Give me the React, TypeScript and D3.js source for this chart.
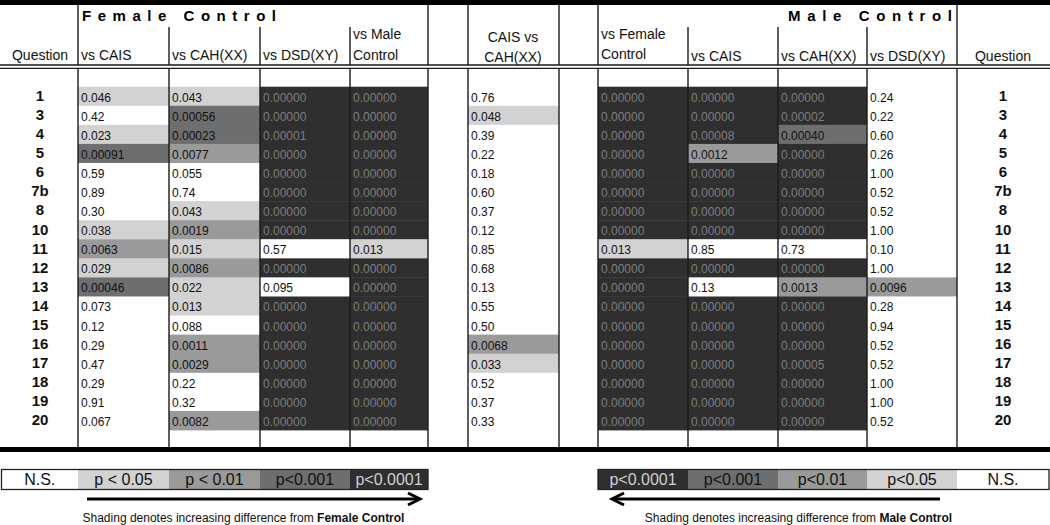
import React from "react";
import * as d3 from "d3";

const questions = ["1", "3", "4", "5", "6", "7b", "8", "10", "11", "12", "13", "14", "15", "16", "17", "18", "19", "20"];

const femaleVsCAIS = ["0.046", "0.42", "0.023", "0.00091", "0.59", "0.89", "0.30", "0.038", "0.0063", "0.029", "0.00046", "0.073", "0.12", "0.29", "0.47", "0.29", "0.91", "0.067"];
const femaleVsCAH = ["0.043", "0.00056", "0.00023", "0.0077", "0.055", "0.74", "0.043", "0.0019", "0.015", "0.0086", "0.022", "0.013", "0.088", "0.0011", "0.0029", "0.22", "0.32", "0.0082"];
const femaleVsDSD = ["0.00000", "0.00000", "0.00001", "0.00000", "0.00000", "0.00000", "0.00000", "0.00000", "0.57", "0.00000", "0.095", "0.00000", "0.00000", "0.00000", "0.00000", "0.00000", "0.00000", "0.00000"];
const femaleVsMale = ["0.00000", "0.00000", "0.00000", "0.00000", "0.00000", "0.00000", "0.00000", "0.00000", "0.013", "0.00000", "0.00000", "0.00000", "0.00000", "0.00000", "0.00000", "0.00000", "0.00000", "0.00000"];
const caisVsCAH = ["0.76", "0.048", "0.39", "0.22", "0.18", "0.60", "0.37", "0.12", "0.85", "0.68", "0.13", "0.55", "0.50", "0.0068", "0.033", "0.52", "0.37", "0.33"];
const maleVsFemale = ["0.00000", "0.00000", "0.00000", "0.00000", "0.00000", "0.00000", "0.00000", "0.00000", "0.013", "0.00000", "0.00000", "0.00000", "0.00000", "0.00000", "0.00000", "0.00000", "0.00000", "0.00000"];
const maleVsCAIS = ["0.00000", "0.00000", "0.00008", "0.0012", "0.00000", "0.00000", "0.00000", "0.00000", "0.85", "0.00000", "0.13", "0.00000", "0.00000", "0.00000", "0.00000", "0.00000", "0.00000", "0.00000"];
const maleVsCAH = ["0.00000", "0.00002", "0.00040", "0.00000", "0.00000", "0.00000", "0.00000", "0.00000", "0.73", "0.00000", "0.0013", "0.00000", "0.00000", "0.00000", "0.00005", "0.00000", "0.00000", "0.00000"];
const maleVsDSD = ["0.24", "0.22", "0.60", "0.26", "1.00", "0.52", "0.52", "1.00", "0.10", "1.00", "0.0096", "0.28", "0.94", "0.52", "0.52", "1.00", "1.00", "0.52"];

const thresholds = [0.0001, 0.001, 0.01, 0.05];
const femaleLegend = ["N.S.", "p < 0.05", "p < 0.01", "p<0.001", "p<0.0001"];
const maleLegend = ["p<0.0001", "p<0.001", "p<0.01", "p<0.05", "N.S."];

const FONT = "'Liberation Sans', Arial, Helvetica, sans-serif";
const shadeColors = ["#2f2f2f", "#6e6e6e", "#9a9a9a", "#d2d2d2", "#ffffff"];
const textColors = ["#7d7d7d", "#111", "#111", "#111", "#111"];

export default function App() {
  const W = 1050;
  const H = 525;
  const level = d3.scaleThreshold<number, number>().domain(thresholds).range([0, 1, 2, 3, 4]);
  const y = d3.scaleBand<string>().domain(questions).range([86.7, 430]).padding(0);
  const bh = y.bandwidth();

  const dataCols = [
    { x0: 78, x1: 169, values: femaleVsCAIS },
    { x0: 169, x1: 260, values: femaleVsCAH },
    { x0: 260, x1: 350, values: femaleVsDSD },
    { x0: 350, x1: 428, values: femaleVsMale },
    { x0: 468, x1: 559, values: caisVsCAH },
    { x0: 598, x1: 688, values: maleVsFemale },
    { x0: 688, x1: 778, values: maleVsCAIS },
    { x0: 778, x1: 867, values: maleVsCAH },
    { x0: 867, x1: 957, values: maleVsDSD },
  ];

  const fullLines = [78, 428, 468, 559, 598, 957];
  const partLines = [169, 260, 350, 688, 778, 867];
  const bodyLines = [78, 169, 260, 350, 428, 468, 559, 598, 688, 778, 867, 957];

  const lineColor = "#1a1a1a";

  const leftLegend = { x0: 1.5, bounds: [1.5, 78, 169, 260, 350, 428] };
  const rightLegend = { bounds: [598, 688, 778, 867, 957, 1049] };
  const leftLevels = [4, 3, 2, 1, 0];
  const rightLevels = [0, 1, 2, 3, 4];

  return (
    <svg width={W} height={H} viewBox={`0 0 ${W} ${H}`} style={{ position: "absolute", left: 0, top: 0, background: "#fff" }} fontFamily={FONT}>
      <rect x={0} y={0} width={W} height={H} fill="#fff" />
      {/* cell fills */}
      {dataCols.map((c, ci) =>
        c.values.map((v, i) => {
          const lv = level(parseFloat(v));
          return <rect key={`f${ci}-${i}`} x={c.x0} y={y(questions[i])!} width={c.x1 - c.x0} height={bh + 0.4} fill={shadeColors[lv]} />;
        })
      )}
      {/* top bar */}
      <rect x={0} y={0} width={W} height={5} fill="#000" />
      {/* header lines */}
      {fullLines.map((x) => (
        <line key={`fl${x}`} x1={x} x2={x} y1={5} y2={65} stroke={lineColor} strokeWidth={1.4} />
      ))}
      {partLines.map((x) => (
        <line key={`pl${x}`} x1={x} x2={x} y1={27} y2={65} stroke={lineColor} strokeWidth={1.4} />
      ))}
      {bodyLines.map((x) => (
        <line key={`bl${x}`} x1={x} x2={x} y1={68} y2={447} stroke={lineColor} strokeWidth={1.4} />
      ))}
      <line x1={0} x2={W} y1={65} y2={65} stroke={lineColor} strokeWidth={1.3} />
      <line x1={0} x2={W} y1={68.3} y2={68.3} stroke={lineColor} strokeWidth={1.3} />
      <rect x={0} y={447} width={W} height={5} fill="#000" />

      {/* titles */}
      <text x={82} y={20.5} fontSize={15} fontWeight="bold" textLength={194} lengthAdjust="spacing">Female Control</text>
      <text x={788} y={20.5} fontSize={15} fontWeight="bold" textLength={164} lengthAdjust="spacing">Male Control</text>

      {/* column headers */}
      <g fontSize={14} fill="#111">
        <text x={40} y={60} textAnchor="middle">Question</text>
        <text x={81} y={60}>vs CAIS</text>
        <text x={172} y={60}>vs CAH(XX)</text>
        <text x={263} y={60}>vs DSD(XY)</text>
        <text x={353} y={39}>vs Male</text>
        <text x={353} y={59.5}>Control</text>
        <text x={513} y={42} textAnchor="middle">CAIS vs</text>
        <text x={513} y={62} textAnchor="middle">CAH(XX)</text>
        <text x={601} y={39}>vs Female</text>
        <text x={601} y={59}>Control</text>
        <text x={691} y={61}>vs CAIS</text>
        <text x={781} y={61}>vs CAH(XX)</text>
        <text x={870} y={61}>vs DSD(XY)</text>
        <text x={1003} y={61} textAnchor="middle">Question</text>
      </g>

      {/* question numbers */}
      <g fontSize={15} fontWeight="bold" fill="#111" textAnchor="middle">
        {questions.map((q) => (
          <React.Fragment key={`q${q}`}>
            <text x={40} y={y(q)! + bh / 2 + 4.8}>{q}</text>
            <text x={1003} y={y(q)! + bh / 2 + 4.8}>{q}</text>
          </React.Fragment>
        ))}
      </g>

      {/* cell values */}
      <g fontSize={12}>
        {dataCols.map((c, ci) =>
          c.values.map((v, i) => {
            const lv = level(parseFloat(v));
            return (
              <text key={`t${ci}-${i}`} x={c.x0 + 3} y={y(questions[i])! + bh / 2 + 5.4} fill={textColors[lv]}>{v}</text>
            );
          })
        )}
      </g>

      {/* legends */}
      {femaleLegend.map((lab, i) => {
        const lv = leftLevels[i];
        const x0 = leftLegend.bounds[i];
        const x1 = leftLegend.bounds[i + 1];
        return (
          <g key={`ll${i}`}>
            <rect x={x0} y={469.5} width={x1 - x0} height={20} fill={shadeColors[lv]} />
            <text x={(x0 + x1) / 2} y={485} fontSize={16} textAnchor="middle" fill={lv === 0 ? "#d0d0d0" : "#111"}>{lab}</text>
          </g>
        );
      })}
      <rect x={1.5} y={469.5} width={426.5} height={20} fill="none" stroke="#222" strokeWidth={1.3} />
      {maleLegend.map((lab, i) => {
        const lv = rightLevels[i];
        const x0 = rightLegend.bounds[i];
        const x1 = rightLegend.bounds[i + 1];
        return (
          <g key={`rl${i}`}>
            <rect x={x0} y={469.5} width={x1 - x0} height={20} fill={shadeColors[lv]} />
            <text x={(x0 + x1) / 2} y={485} fontSize={16} textAnchor="middle" fill={lv === 0 ? "#d0d0d0" : "#111"}>{lab}</text>
          </g>
        );
      })}
      <rect x={598} y={469.5} width={451} height={20} fill="none" stroke="#222" strokeWidth={1.3} />

      {/* arrows */}
      <g stroke="#000" strokeWidth={3} fill="none" strokeLinecap="butt">
        <line x1={87} x2={419} y1={499} y2={499} />
        <polyline points="408,493 420,499 408,505" strokeLinejoin="miter" />
        <line x1={613} x2={940} y1={499} y2={499} />
        <polyline points="624,493 612,499 624,505" strokeLinejoin="miter" />
      </g>

      {/* captions */}
      <text x={243.5} y={522} fontSize={12} textAnchor="middle" fill="#111">
        Shading denotes increasing difference from <tspan fontWeight="bold">Female Control</tspan>
      </text>
      <text x={798.5} y={522} fontSize={12} textAnchor="middle" fill="#111">
        Shading denotes increasing difference from <tspan fontWeight="bold">Male Control</tspan>
      </text>
    </svg>
  );
}
